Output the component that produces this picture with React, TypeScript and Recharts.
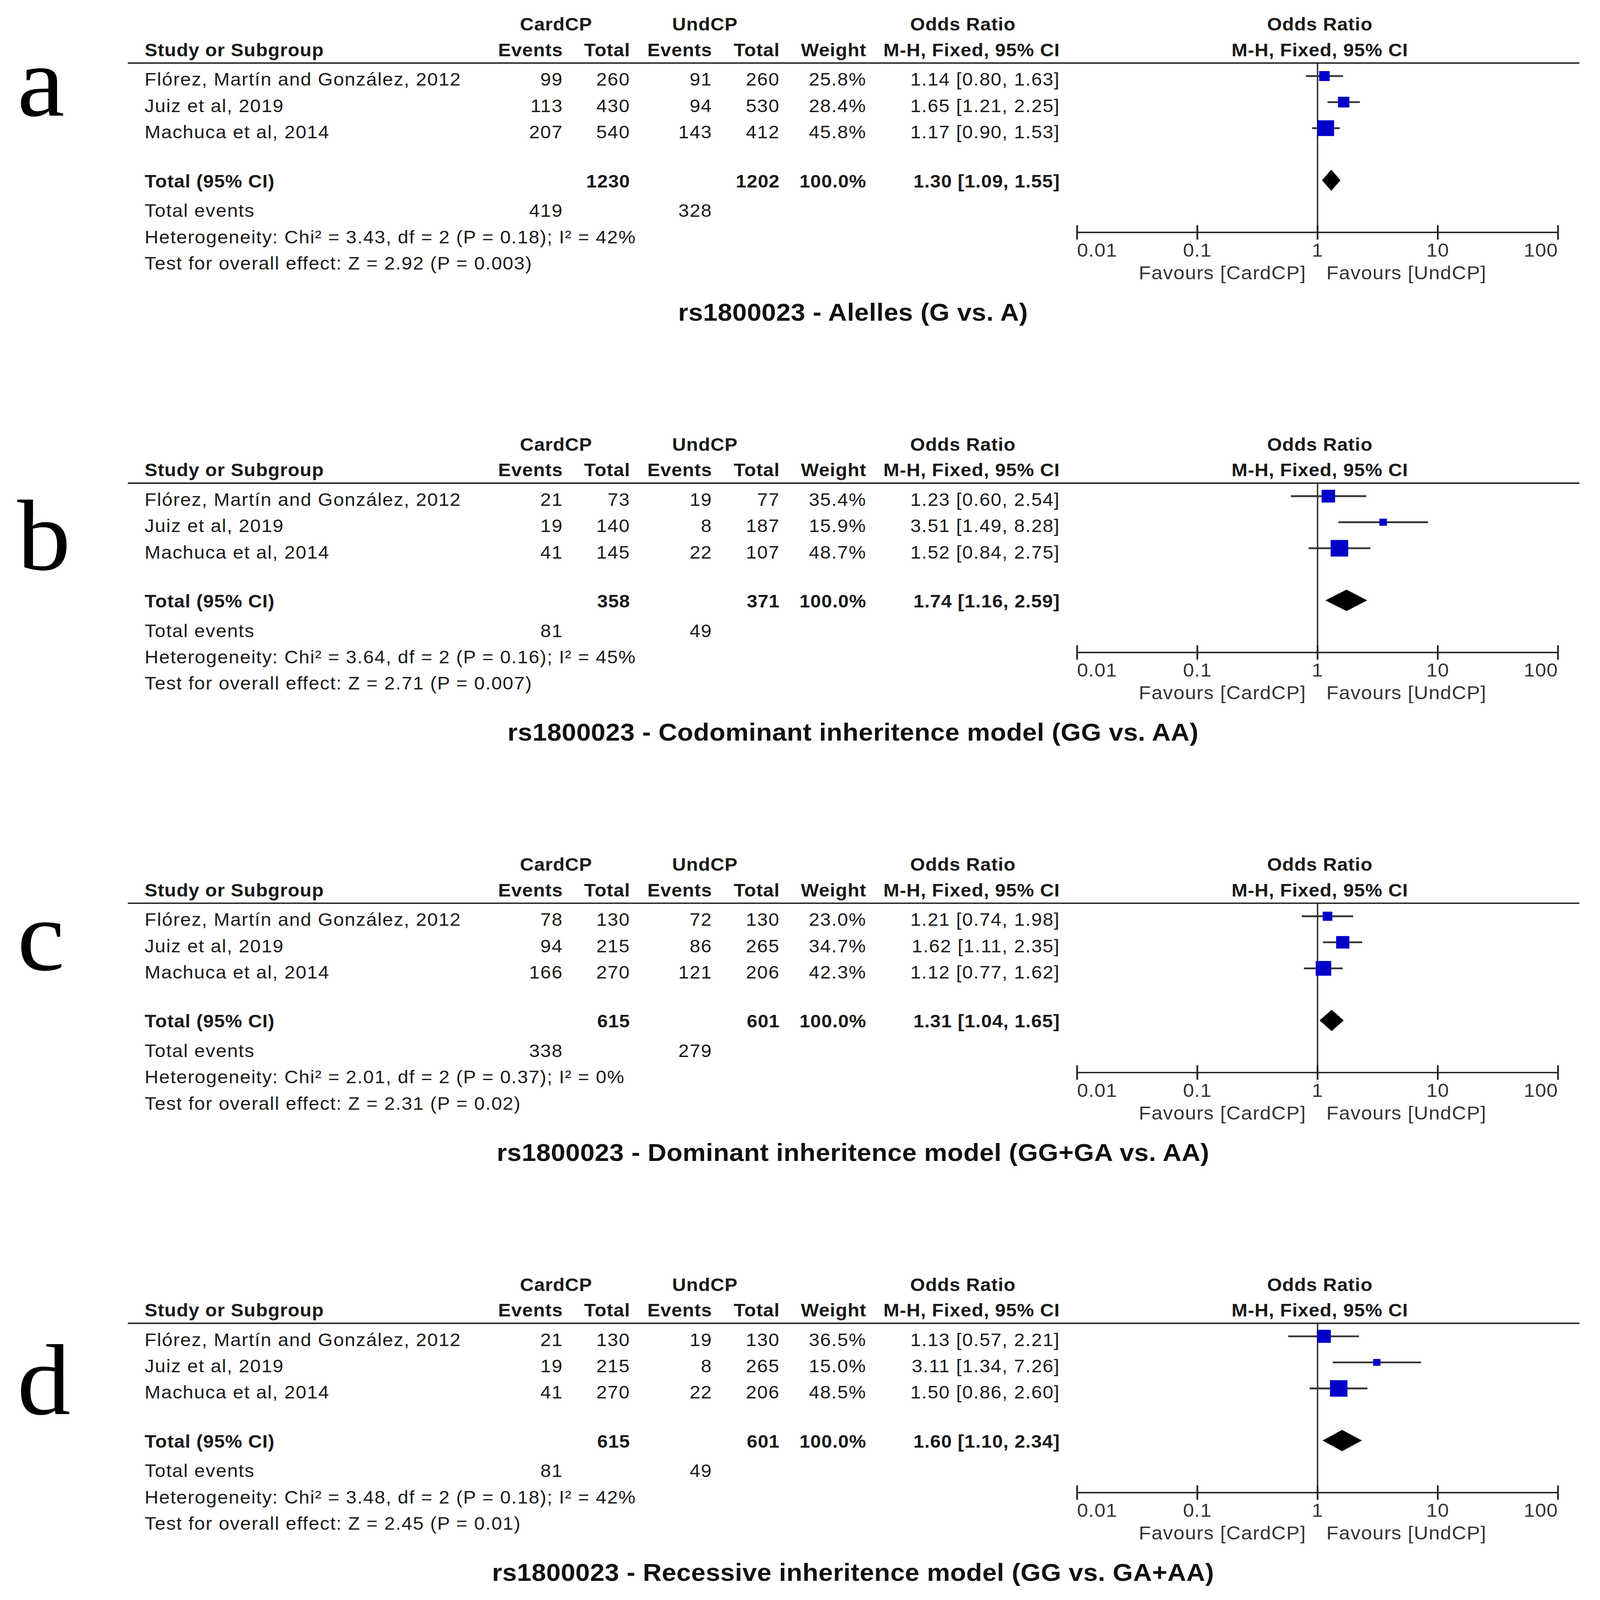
import React from "react";
import {
  ComposedChart,
  Scatter,
  Area,
  XAxis,
  YAxis,
  ReferenceLine,
  ErrorBar,
} from "recharts";

// ---- data ----
const studies = [
  "Flórez, Martín and González, 2012",
  "Juiz et al, 2019",
  "Machuca et al, 2014",
];
const panelLetters = ["a", "b", "c", "d"];
const titles = [
  "rs1800023 - Alelles (G vs. A)",
  "rs1800023 - Codominant inheritence model (GG vs. AA)",
  "rs1800023 - Dominant inheritence model (GG+GA vs. AA)",
  "rs1800023 - Recessive inheritence model (GG vs. GA+AA)",
];
const cardEvents = [[99, 113, 207], [21, 19, 41], [78, 94, 166], [21, 19, 41]];
const cardTotals = [[260, 430, 540], [73, 140, 145], [130, 215, 270], [130, 215, 270]];
const undEvents = [[91, 94, 143], [19, 8, 22], [72, 86, 121], [19, 8, 22]];
const undTotals = [[260, 530, 412], [77, 187, 107], [130, 265, 206], [130, 265, 206]];
const weights = [[25.8, 28.4, 45.8], [35.4, 15.9, 48.7], [23.0, 34.7, 42.3], [36.5, 15.0, 48.5]];
const oddsRatios = [[1.14, 1.65, 1.17], [1.23, 3.51, 1.52], [1.21, 1.62, 1.12], [1.13, 3.11, 1.5]];
const ciLow = [[0.8, 1.21, 0.9], [0.6, 1.49, 0.84], [0.74, 1.11, 0.77], [0.57, 1.34, 0.86]];
const ciHigh = [[1.63, 2.25, 1.53], [2.54, 8.28, 2.75], [1.98, 2.35, 1.62], [2.21, 7.26, 2.6]];
const totalCard = [1230, 358, 615, 615];
const totalUnd = [1202, 371, 601, 601];
const totalOR = [1.3, 1.74, 1.31, 1.6];
const totalLow = [1.09, 1.16, 1.04, 1.1];
const totalHigh = [1.55, 2.59, 1.65, 2.34];
const totalEventsCard = [419, 81, 338, 81];
const totalEventsUnd = [328, 49, 279, 49];
const heterogeneity = [
  "Heterogeneity: Chi² = 3.43, df = 2 (P = 0.18); I² = 42%",
  "Heterogeneity: Chi² = 3.64, df = 2 (P = 0.16); I² = 45%",
  "Heterogeneity: Chi² = 2.01, df = 2 (P = 0.37); I² = 0%",
  "Heterogeneity: Chi² = 3.48, df = 2 (P = 0.18); I² = 42%",
];
const overallEffect = [
  "Test for overall effect: Z = 2.92 (P = 0.003)",
  "Test for overall effect: Z = 2.71 (P = 0.007)",
  "Test for overall effect: Z = 2.31 (P = 0.02)",
  "Test for overall effect: Z = 2.45 (P = 0.01)",
];
const tickValues = [0.01, 0.1, 1, 10, 100];
const tickLabels = ["0.01", "0.1", "1", "10", "100"];

// ---- layout ----
const W = 4192;
const H = 4441;
const PANEL_H = 1166;
const FONT = '"Liberation Sans", Arial, sans-serif';
const SERIF = '"Liberation Serif", "Times New Roman", serif';
const TEXT = "#1a1a1a";
const LETTER_Y = [321, 415, 360, 427];
const ROW_Y = [238, 311, 384];
const TOTAL_ROW = 5;
const COL = { ev1: 1475, tot1: 1651, ev2: 1866, tot2: 2043, wt: 2270, ci: 2777 };

const fmtCI = (or: number, lo: number, hi: number) =>
  `${or.toFixed(2)} [${lo.toFixed(2)}, ${hi.toFixed(2)}]`;

const ForestTick = (props: any) => {
  const { x, y, payload } = props;
  const i = tickValues.indexOf(payload.value);
  const anchor = i === 0 ? "start" : i === tickValues.length - 1 ? "end" : "middle";
  return (
    <g>
      <line x1={x} x2={x} y1={y - 20} y2={y + 20} stroke="#222" strokeWidth={4.5} />
      <text
        x={x}
        y={y + 67}
        textAnchor={anchor}
        fontSize={52}
        fill="#333"
        fontFamily={FONT}
        letterSpacing={1}
      >
        {tickLabels[i]}
      </text>
    </g>
  );
};

const squareShape = (props: any) => {
  const { cx, cy, payload } = props;
  const s = 7 + 0.8 * payload.w;
  return <rect x={cx - s / 2} y={cy - s / 2} width={s} height={s} fill="#0000c8" />;
};

function ForestPlot({ p }: { p: number }) {
  const rows = studies.map((_, i) => ({
    x: oddsRatios[p][i],
    y: i + 1,
    w: weights[p][i],
    err: [oddsRatios[p][i] - ciLow[p][i], ciHigh[p][i] - oddsRatios[p][i]],
  }));
  const diamond = [
    { x: totalLow[p], range: [TOTAL_ROW, TOTAL_ROW] },
    { x: totalOR[p], range: [TOTAL_ROW - 0.41, TOTAL_ROW + 0.41] },
    { x: totalHigh[p], range: [TOTAL_ROW, TOTAL_ROW] },
  ];
  return (
    <ComposedChart
      width={1460}
      height={710}
      data={diamond}
      margin={{ top: 100, right: 100, bottom: 0, left: 100 }}
    >
      <XAxis
        dataKey="x"
        type="number"
        scale="log"
        domain={[0.01, 100]}
        ticks={tickValues}
        interval={0}
        allowDataOverflow
        height={140}
        tickSize={0}
        tickMargin={0}
        tickLine={false}
        axisLine={{ stroke: "#222", strokeWidth: 4 }}
        tick={<ForestTick />}
      />
      <YAxis dataKey="y" type="number" domain={[0.5, 7]} reversed hide allowDataOverflow />
      <ReferenceLine x={1} stroke="#222" strokeWidth={3.5} />
      <Area
        dataKey="range"
        type="linear"
        fill="#000"
        fillOpacity={1}
        stroke="none"
        dot={false}
        activeDot={false}
        isAnimationActive={false}
      />
      <Scatter data={rows} shape={() => <g />} isAnimationActive={false}>
        <ErrorBar dataKey="err" direction="x" width={0} stroke="#333" strokeWidth={5} isAnimationActive={false} />
      </Scatter>
      <Scatter data={rows} shape={squareShape} isAnimationActive={false} />
    </ComposedChart>
  );
}

function Panel({ p }: { p: number }) {
  const top = p * PANEL_H;
  const h = Math.min(PANEL_H, H - top);
  const t = { fontSize: 50, fill: TEXT, letterSpacing: 1.8 };
  const b = { fontSize: 50, fill: TEXT, fontWeight: 700, letterSpacing: 1 };
  return (
    <div style={{ position: "absolute", left: 0, top, width: W, height: h, overflow: "hidden" }}>
      <svg width={W} height={h} style={{ position: "absolute", left: 0, top: 0 }} fontFamily={FONT}>
        <text x={45} y={LETTER_Y[p]} fontFamily={SERIF} fontSize={280} fill="#000">
          {panelLetters[p]}
        </text>

        {/* header */}
        <text {...b} x={1457} y={85} textAnchor="middle">CardCP</text>
        <text {...b} x={1847} y={85} textAnchor="middle">UndCP</text>
        <text {...b} x={2523} y={85} textAnchor="middle">Odds Ratio</text>
        <text {...b} x={3458} y={85} textAnchor="middle">Odds Ratio</text>
        <text {...b} x={379} y={156}>Study or Subgroup</text>
        <text {...b} x={COL.ev1} y={156} textAnchor="end">Events</text>
        <text {...b} x={COL.tot1} y={156} textAnchor="end">Total</text>
        <text {...b} x={COL.ev2} y={156} textAnchor="end">Events</text>
        <text {...b} x={COL.tot2} y={156} textAnchor="end">Total</text>
        <text {...b} x={COL.wt} y={156} textAnchor="end">Weight</text>
        <text {...b} x={COL.ci} y={156} textAnchor="end">M-H, Fixed, 95% CI</text>
        <text {...b} x={3458} y={156} textAnchor="middle">M-H, Fixed, 95% CI</text>
        <line x1={335} x2={4138} y1={175} y2={175} stroke="#222" strokeWidth={4} />

        {/* study rows */}
        {studies.map((s, i) => (
          <g key={s}>
            <text {...t} x={379} y={ROW_Y[i]}>{s}</text>
            <text {...t} x={COL.ev1} y={ROW_Y[i]} textAnchor="end">{cardEvents[p][i]}</text>
            <text {...t} x={COL.tot1} y={ROW_Y[i]} textAnchor="end">{cardTotals[p][i]}</text>
            <text {...t} x={COL.ev2} y={ROW_Y[i]} textAnchor="end">{undEvents[p][i]}</text>
            <text {...t} x={COL.tot2} y={ROW_Y[i]} textAnchor="end">{undTotals[p][i]}</text>
            <text {...t} x={COL.wt} y={ROW_Y[i]} textAnchor="end">{weights[p][i].toFixed(1)}%</text>
            <text {...t} x={COL.ci} y={ROW_Y[i]} textAnchor="end">
              {fmtCI(oddsRatios[p][i], ciLow[p][i], ciHigh[p][i])}
            </text>
          </g>
        ))}

        {/* totals */}
        <text {...b} x={379} y={520}>Total (95% CI)</text>
        <text {...b} x={COL.tot1} y={520} textAnchor="end">{totalCard[p]}</text>
        <text {...b} x={COL.tot2} y={520} textAnchor="end">{totalUnd[p]}</text>
        <text {...b} x={COL.wt} y={520} textAnchor="end">100.0%</text>
        <text {...b} x={COL.ci} y={520} textAnchor="end">
          {fmtCI(totalOR[p], totalLow[p], totalHigh[p])}
        </text>
        <text {...t} x={379} y={602}>Total events</text>
        <text {...t} x={COL.ev1} y={602} textAnchor="end">{totalEventsCard[p]}</text>
        <text {...t} x={COL.ev2} y={602} textAnchor="end">{totalEventsUnd[p]}</text>
        <text {...t} x={379} y={675}>{heterogeneity[p]}</text>
        <text {...t} x={379} y={748}>{overallEffect[p]}</text>

        {/* favours labels */}
        <text x={3422} y={775} textAnchor="end" fontSize={52} fill="#333" letterSpacing={1.4}>
          Favours [CardCP]
        </text>
        <text x={3475} y={775} fontSize={52} fill="#333" letterSpacing={1.4}>
          Favours [UndCP]
        </text>

        <text x={2235} y={890} textAnchor="middle" fontSize={68} fontWeight={700} fill="#111" letterSpacing={0.5}>
          {titles[p]}
        </text>
      </svg>
      <div style={{ position: "absolute", left: 2722, top: 75 }}>
        <ForestPlot p={p} />
      </div>
    </div>
  );
}

export default function App() {
  // the browser may give a smaller viewport than the figure; fit the figure into it
  const vw = typeof window !== "undefined" ? window.innerWidth : W;
  const vh = typeof window !== "undefined" ? window.innerHeight : H;
  const sx = Math.min(1, vw / W);
  const sy = Math.min(1, vh / H);
  return (
    <div
      style={{
        position: "absolute",
        left: 0,
        top: 0,
        width: W * sx,
        height: H * sy,
        overflow: "hidden",
        background: "#fff",
      }}
    >
      <div
        style={{
          position: "absolute",
          left: 0,
          top: 0,
          width: W,
          height: H,
          overflow: "hidden",
          background: "#fff",
          fontFamily: FONT,
          transform: `scale(${sx}, ${sy})`,
          transformOrigin: "0 0",
        }}
      >
        {panelLetters.map((_, p) => (
          <Panel key={p} p={p} />
        ))}
      </div>
    </div>
  );
}
